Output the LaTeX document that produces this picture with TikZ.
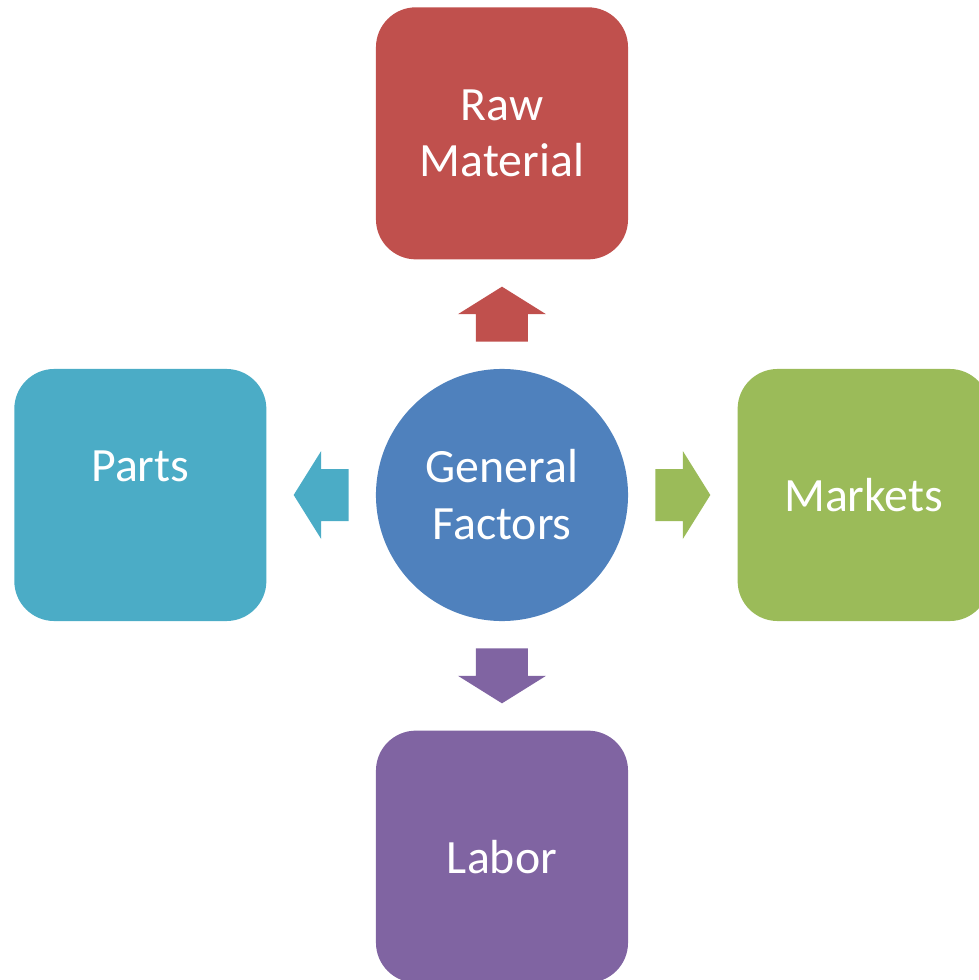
\documentclass[tikz,border=0pt]{standalone}
\usepackage{fontspec}
\setmainfont{Carlito}
\usetikzlibrary{positioning,calc}

\definecolor{rawred}{HTML}{C0504D}
\definecolor{gfblue}{HTML}{4F81BD}
\definecolor{mktgreen}{HTML}{9BBB59}
\definecolor{labpurple}{HTML}{8064A2}
\definecolor{partteal}{HTML}{4BACC6}

\begin{document}
\begin{tikzpicture}[
	x=0.025cm, y=0.025cm,
	basic/.style  = {text=white, font=\fontsize{34pt}{40.5pt}\selectfont, align=center, inner sep=0pt},
	factor/.style = {basic, rectangle, rounded corners=1cm, minimum width=6.3cm, minimum height=6.3cm},
	centre/.style = {basic, circle, minimum size=6.3cm, fill=gfblue},
	node distance=2.725cm,
	pics/blockarrow/.style = {code={
		\fill (-27.5,-26) -- (0,-26) -- (0,-44) -- (27.5,0) -- (0,44) -- (0,26) -- (-27.5,26) -- cycle;}}
	]
	
	\useasboundingbox (-502,-485) rectangle (477,495);
	
	\node[centre] (gf) {General\\Factors};
	
	\node[factor, fill=rawred, above = of gf] (rm) {Raw\\Material};
	\node[factor, fill=partteal, left = of gf] (pt) {Parts\\\mbox{}};
	\node[factor, fill=mktgreen, right = of gf] (mk) {Markets};
	\node[factor, fill=labpurple, below = of gf] (lb) {Labor};
	
	\foreach \tgt/\from/\to/\ang/\col in {rm/north/south/90/rawred, pt/west/east/180/partteal,
		mk/east/west/0/mktgreen, lb/south/north/-90/labpurple}
	\pic[fill=\col, rotate=\ang] at ($(gf.\from)!0.5!(\tgt.\to)$) {blockarrow};
	
\end{tikzpicture}
\end{document}
